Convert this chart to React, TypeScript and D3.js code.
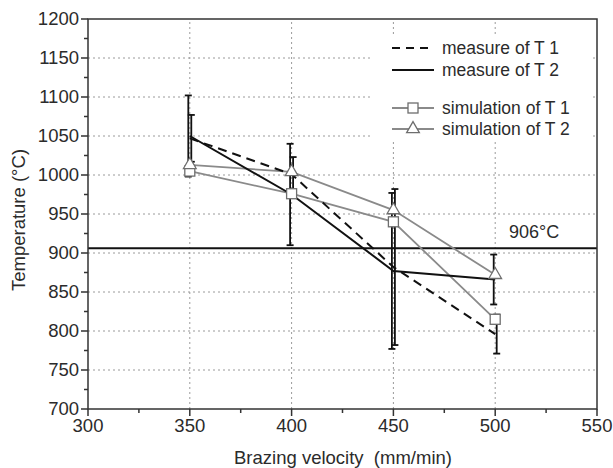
import React from "react";
import * as d3 from "d3";

// brazing velocity (mm/min)
const velocities = [350, 400, 450, 500];
// measured temperatures (°C) with error half-widths
const measureT1 = [1047, 1001, 882, 796];
const measureT2 = [1050, 975, 877, 866];
const errT1 = [30, 22, 100, 25];
const errT2 = [52, 65, 100, 32];
// simulated temperatures (°C)
const simT1 = [1005, 976, 940, 815];
const simT2 = [1013, 1004, 955, 872];

const xTicks = [300, 350, 400, 450, 500, 550];
const yTicks = [700, 750, 800, 850, 900, 950, 1000, 1050, 1100, 1150, 1200];
const threshold = 906;
const legendLabels = ["measure of T 1", "measure of T 2", "simulation of T 1", "simulation of T 2"];

const W = 613;
const H = 468;
const FONT = "'Liberation Sans', Arial, sans-serif";
const INK = "#2b2b2b";
const SIM = "#8a8a8a";

const x = d3.scaleLinear().domain([300, 550]).range([88, 597]);
const y = d3.scaleLinear().domain([700, 1200]).range([409, 19]);

function Square({ cx, cy }: { cx: number; cy: number }) {
  return <rect x={cx - 5} y={cy - 5} width={10} height={10} fill="#fff" stroke="#6e6e6e" strokeWidth={1.3} />;
}

function Triangle({ cx, cy }: { cx: number; cy: number }) {
  const tri = d3.symbol().type(d3.symbolTriangle).size(70)();
  return <path d={tri} transform={`translate(${cx},${cy})`} fill="#fff" stroke="#6e6e6e" strokeWidth={1.3} />;
}

export default function App() {
  const line = d3
    .line<number>()
    .x((d, i) => x(velocities[i]))
    .y((d) => y(d));

  const [x0, x1] = x.range();
  const [yb, yt] = y.range();
  const minorX = d3.range(325, 550, 50);
  const minorY = d3.range(725, 1200, 50);

  const errorBars = (vals: number[], errs: number[], dx: number) =>
    vals.map((v, i) => {
      const cx = x(velocities[i]) + dx;
      return (
        <g key={i} stroke="#111" strokeWidth={1.8}>
          <line x1={cx} x2={cx} y1={y(v + errs[i])} y2={y(v - errs[i])} />
          <line x1={cx - 3.5} x2={cx + 3.5} y1={y(v + errs[i])} y2={y(v + errs[i])} />
          <line x1={cx - 3.5} x2={cx + 3.5} y1={y(v - errs[i])} y2={y(v - errs[i])} />
        </g>
      );
    });

  // legend rows
  const lgX = 392;
  const lgRows = [48, 70, 108, 129];

  return (
    <svg width={W} height={H} style={{ position: "absolute", left: 0, top: 0, background: "#fff" }} fontFamily={FONT}>
      {/* grid */}
      <g stroke="#9a9a9a" strokeWidth={1} strokeDasharray="2,3">
        {yTicks.slice(1, -1).map((t) => (
          <line key={t} x1={x0} x2={x1} y1={y(t)} y2={y(t)} />
        ))}
        {xTicks.slice(1, -1).map((t) => (
          <line key={t} x1={x(t)} x2={x(t)} y1={yb} y2={yt} />
        ))}
      </g>

      {/* legend background */}
      <rect x={370} y={37} width={220} height={103} fill="#fff" />

      {/* threshold line */}
      <line x1={x0} x2={x1} y1={y(threshold)} y2={y(threshold)} stroke="#111" strokeWidth={2} />
      <text x={509} y={238} fontSize={18} fill={INK}>
        {threshold}°C
      </text>

      {/* error bars */}
      {errorBars(measureT2, errT2, -1.5)}
      {errorBars(measureT1, errT1, 1.5)}

      {/* simulation lines */}
      <path d={line(simT1) ?? ""} fill="none" stroke={SIM} strokeWidth={1.8} />
      <path d={line(simT2) ?? ""} fill="none" stroke={SIM} strokeWidth={1.8} />

      {/* measured lines */}
      <path d={line(measureT1) ?? ""} fill="none" stroke="#111" strokeWidth={2} strokeDasharray="9,6" />
      <path d={line(measureT2) ?? ""} fill="none" stroke="#111" strokeWidth={2} />

      {/* markers */}
      {simT1.map((v, i) => (
        <Square key={"s" + i} cx={x(velocities[i])} cy={y(v)} />
      ))}
      {simT2.map((v, i) => (
        <Triangle key={"t" + i} cx={x(velocities[i])} cy={y(v)} />
      ))}

      {/* frame */}
      <rect x={x0} y={yt} width={x1 - x0} height={yb - yt} fill="none" stroke="#333" strokeWidth={1.5} />

      {/* ticks */}
      <g stroke="#333" strokeWidth={1.5}>
        {xTicks.map((t) => (
          <line key={t} x1={x(t)} x2={x(t)} y1={yb} y2={yb + 7} />
        ))}
        {minorX.map((t) => (
          <line key={t} x1={x(t)} x2={x(t)} y1={yb} y2={yb + 4} />
        ))}
        {yTicks.map((t) => (
          <line key={t} x1={x0 - 7} x2={x0} y1={y(t)} y2={y(t)} />
        ))}
        {minorY.map((t) => (
          <line key={t} x1={x0 - 4} x2={x0} y1={y(t)} y2={y(t)} />
        ))}
      </g>

      {/* tick labels */}
      <g fontSize={18.5} fill={INK}>
        {xTicks.map((t) => (
          <text key={t} x={x(t)} y={yb + 23} textAnchor="middle">
            {t}
          </text>
        ))}
        {yTicks.map((t) => (
          <text key={t} x={x0 - 9} y={y(t) + 6} textAnchor="end">
            {t}
          </text>
        ))}
      </g>

      {/* axis titles */}
      <text x={343} y={464} fontSize={18.5} fill={INK} textAnchor="middle" xmlSpace="preserve">
        Brazing velocity  (mm/min)
      </text>
      <text transform={`translate(25,220) rotate(-90)`} fontSize={18.5} fill={INK} textAnchor="middle">
        Temperature (°C)
      </text>

      {/* legend */}
      <g fontSize={17.5} fill={INK}>
        <line x1={lgX} x2={lgX + 42} y1={lgRows[0]} y2={lgRows[0]} stroke="#111" strokeWidth={2} strokeDasharray="8,6" />
        <line x1={lgX} x2={lgX + 42} y1={lgRows[1]} y2={lgRows[1]} stroke="#111" strokeWidth={2} />
        <line x1={lgX} x2={lgX + 42} y1={lgRows[2]} y2={lgRows[2]} stroke={SIM} strokeWidth={1.8} />
        <Square cx={lgX + 21} cy={lgRows[2]} />
        <line x1={lgX} x2={lgX + 42} y1={lgRows[3]} y2={lgRows[3]} stroke={SIM} strokeWidth={1.8} />
        <Triangle cx={lgX + 21} cy={lgRows[3]} />
        {legendLabels.map((l, i) => (
          <text key={l} x={lgX + 50} y={lgRows[i] + 6}>
            {l}
          </text>
        ))}
      </g>
    </svg>
  );
}
